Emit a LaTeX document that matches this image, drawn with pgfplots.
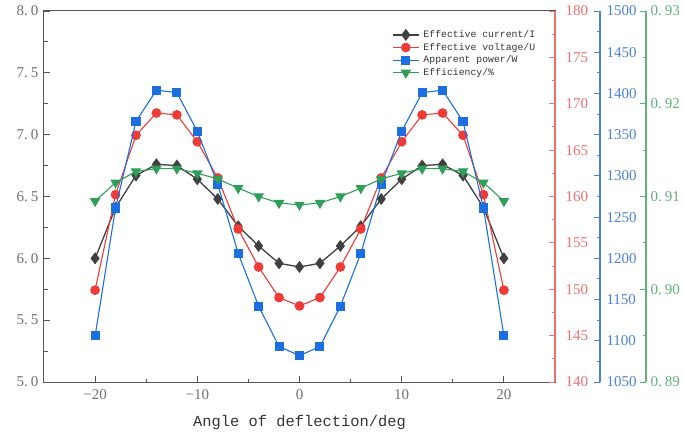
\documentclass[border=0pt]{standalone}
\usepackage{fontspec}
\setmainfont{Liberation Serif}
\newfontfamily\monofont{Liberation Mono}
\usepackage{pgfplots}
\usepackage{pgfplotstable}
\pgfplotsset{compat=1.18}

\definecolor{curInk}{HTML}{404040}
\definecolor{voltRed}{HTML}{EE3B36}
\definecolor{powBlue}{HTML}{1C6FE0}
\definecolor{effGreen}{HTML}{2E9E58}
\definecolor{axGray}{HTML}{555555}
\definecolor{tickGray}{HTML}{707070}
\definecolor{axRed}{HTML}{F07070}
\definecolor{axBlue}{HTML}{4C80D8}
\definecolor{axGreen}{HTML}{62B07C}

% angle, current (A), voltage (V), apparent power (W), efficiency
\pgfplotstableread{
x    cur   volt   pow   eff
-20  6.00  149.9  1106  0.9095
-18  6.41  160.2  1261  0.9115
-16  6.67  166.6  1366  0.9127
-14  6.76  169.0  1404  0.9130
-12  6.75  168.8  1401  0.9130
-10  6.64  165.9  1354  0.9125
-8   6.48  162.0  1290  0.9119
-6   6.26  156.5  1206  0.9109
-4   6.10  152.4  1142  0.9100
-2   5.96  149.1  1093  0.9093
0    5.93  148.2  1082  0.9091
2    5.96  149.1  1093  0.9093
4    6.10  152.4  1142  0.9100
6    6.26  156.5  1206  0.9109
8    6.48  162.0  1290  0.9119
10   6.64  165.9  1354  0.9125
12   6.75  168.8  1401  0.9130
14   6.76  169.0  1404  0.9130
16   6.67  166.6  1366  0.9127
18   6.41  160.2  1261  0.9115
20   6.00  149.9  1106  0.9095
}\deflection

\newcommand{\dsp}{.\hspace{3pt}}

\pgfplotsset{
  twin/.style={
    scale only axis,
    height=371pt,
    xmin=-25,
    tick align=inside,
    major tick length=6pt,
    minor tick length=3.5pt,
    /pgf/number format/assume math mode=true,
    /pgf/number format/1000 sep={},
    tick label style={font=\fontsize{15}{17}\selectfont},
    clip=false,
  },
  rightaxis/.style 2 args={
    twin,
    hide x axis,
    axis y line*=right,
    minor y tick num=1,
    y axis line style={draw=#1, line width=1.1pt},
    every y tick/.append style={draw=#1, line width=0.9pt},
    every minor y tick/.append style={draw=#1, line width=0.9pt},
    yticklabel style={text=#1, xshift=#2},
  },
  curStyle/.style={color=curInk, line width=1.3pt, mark=diamond*, mark size=5pt},
  voltStyle/.style={color=voltRed, line width=1.1pt, mark=*, mark size=4.3pt},
  powStyle/.style={color=powBlue, line width=1.1pt, mark=square*, mark size=4pt},
  effStyle/.style={color=effGreen, line width=1.1pt, mark=triangle*, mark size=5pt,
    mark options={rotate=180}},
}

\begin{document}
\begin{tikzpicture}
\path[use as bounding box] (-44pt,-54pt) rectangle (640pt,382pt);

\begin{axis}[twin,
  width=511pt, xmax=25,
  ymin=5, ymax=8,
  xtick={-20,-10,0,10,20},
  xticklabels={{−20},{−10},{0},{10},{20}},
  ytick={5,5.5,6,6.5,7,7.5,8},
  yticklabels={{5\dsp0},{5\dsp5},{6\dsp0},{6\dsp5},{7\dsp0},{7\dsp5},{8\dsp0}},
  minor x tick num=1, minor y tick num=1,
  xtick pos=left, ytick pos=left,
  axis line style={draw=axGray, line width=1pt},
  tick style={draw=axGray, line width=0.9pt},
  tick label style={text=tickGray},
  xticklabel style={yshift=-4pt},
  yticklabel style={xshift=-2pt},
  xlabel={Angle of deflection/deg},
  xlabel style={font=\monofont\fontsize{15.4}{17}\selectfont, text=black!80, yshift=-9pt},
  legend image code/.code={
    \draw[mark repeat=2, mark phase=2, #1] plot coordinates {(0pt,0pt) (13pt,0pt) (26pt,0pt)};
  },
  legend cell align=left,
  legend style={at={(rel axis cs:0.681,0.953)}, anchor=north west,
    draw=none, fill=none, inner sep=0pt,
    font=\monofont\fontsize{9.8}{11}\selectfont, text=black!80,
    row sep=0pt,
    /tikz/every odd column/.append style={column sep=2pt}},
]
  \addplot[curStyle] table[x=x, y=cur] {\deflection};
  \addlegendentry{Effective current/I}
  \addlegendimage{voltStyle}
  \addlegendentry{Effective voltage/U}
  \addlegendimage{powStyle}
  \addlegendentry{Apparent power/W}
  \addlegendimage{effStyle}
  \addlegendentry{Efficiency/\%}
\end{axis}

\begin{axis}[rightaxis={axRed}{7pt},
  width=511pt, xmax=25,
  ymin=140, ymax=180,
  ytick={140,145,...,180},
]
  \addplot[voltStyle] table[x=x, y=volt] {\deflection};
\end{axis}

\begin{axis}[rightaxis={axBlue}{3pt},
  width=556pt, xmax=29.403,
  ymin=1050, ymax=1500,
  ytick={1050,1100,...,1500},
]
  \addplot[powStyle] table[x=x, y=pow] {\deflection};
\end{axis}

\begin{axis}[rightaxis={axGreen}{1pt},
  width=602pt, xmax=33.904,
  ymin=0.89, ymax=0.93,
  ytick={0.89,0.90,0.91,0.92,0.93},
  yticklabels={{0\dsp89},{0\dsp90},{0\dsp91},{0\dsp92},{0\dsp93}},
]
  \addplot[effStyle] table[x=x, y=eff] {\deflection};
\end{axis}
\end{tikzpicture}
\end{document}
